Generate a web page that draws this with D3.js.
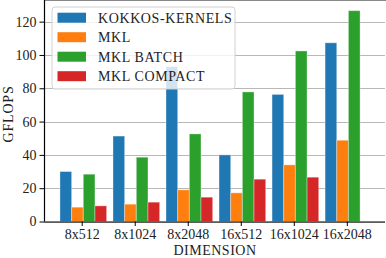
<!DOCTYPE html>
<html>
<head>
<meta charset="utf-8">
<script src="https://cdn.jsdelivr.net/npm/d3@7"></script>
<style>
  body { margin: 0; background: #fff; }
</style>
</head>
<body>
<div id="chart"></div>
<script>
const categories = ['8x512', '8x1024', '8x2048', '16x512', '16x1024', '16x2048'];
const seriesNames = ['KOKKOS-KERNELS', 'MKL', 'MKL BATCH', 'MKL COMPACT'];
const kokkos = [30, 51.3, 93, 40, 76.3, 107.3];
const mkl = [8.6, 10.4, 19, 17.2, 34, 48.8];
const mklBatch = [28.4, 38.6, 52.6, 77.8, 102.4, 126.6];
const mklCompact = [9.4, 11.6, 14.6, 25.4, 26.6, 0];
const yTicks = [0, 20, 40, 60, 80, 100, 120];
const colors = ['#1f77b4', '#ff7f0e', '#2ca02c', '#d62728'];

const series = [kokkos, mkl, mklBatch, mklCompact];
const FONT = '"Liberation Serif", "Times New Roman", serif';

const W = 386, H = 258;
const plotL = 44, plotR = 385, plotT = 0, plotB = 221.5;

const svg = d3.select('#chart').append('svg')
    .attr('width', W).attr('height', H);

// scales (group index units)
const x = d3.scaleLinear().domain([-0.711, 5.72]).range([plotL, plotR]);
const y = d3.scaleLinear().domain([0, 133]).range([plotB, plotT]);
const barW = 0.22;
const groupOffset = -0.41;

// grid
svg.append('g')
    .selectAll('line')
    .data(yTicks)
    .enter()
    .append('line')
    .attr('x1', plotL).attr('x2', plotR)
    .attr('y1', d => Math.round(y(d)) + 0.5).attr('y2', d => Math.round(y(d)) + 0.5)
    .attr('stroke', '#b0b0b0')
    .attr('stroke-width', 0.9);

// bars
const bars = [];
series.forEach((vals, j) => {
    vals.forEach((v, i) => {
        if (v > 0) bars.push({ i, j, v });
    });
});
svg.append('g')
    .selectAll('rect')
    .data(bars)
    .enter()
    .append('rect')
    .attr('x', d => x(d.i + groupOffset + d.j * barW))
    .attr('width', x(barW) - x(0))
    .attr('y', d => y(d.v))
    .attr('height', d => plotB - y(d.v))
    .attr('fill', d => colors[d.j])
    .attr('stroke', 'rgba(255,255,255,0.35)')
    .attr('stroke-width', 1);

// top border
svg.append('line')
    .attr('x1', plotL).attr('x2', W)
    .attr('y1', 0.5).attr('y2', 0.5)
    .attr('stroke', '#888').attr('stroke-width', 1);

// y axis
const yAxis = svg.append('g')
    .attr('transform', `translate(${plotL},0)`)
    .call(d3.axisLeft(y).tickValues(yTicks).tickSize(4.5).tickPadding(3));
yAxis.select('.domain').attr('stroke', '#000').attr('stroke-width', 1.2).attr('d', `M0.5,${plotT}V${plotB}`);
yAxis.selectAll('text').style('font-family', FONT).style('font-size', '14px').attr('fill', '#222');

// x axis
const xAxis = svg.append('g')
    .attr('transform', `translate(0,${plotB})`)
    .call(d3.axisBottom(x).tickValues(d3.range(categories.length)).tickFormat(i => categories[i]).tickSize(4.5).tickPadding(3));
xAxis.select('.domain').attr('stroke', '#000').attr('stroke-width', 1.2).attr('d', `M${plotL},0.5H${plotR}`);
xAxis.selectAll('text').style('font-family', FONT).style('font-size', '14px').attr('fill', '#222');

// axis labels
svg.append('text')
    .attr('x', 215).attr('y', 255)
    .attr('text-anchor', 'middle')
    .attr('fill', '#222')
    .style('font-family', FONT)
    .style('font-size', '14px')
    .style('letter-spacing', '0.5px')
    .text('DIMENSION');
svg.append('text')
    .attr('transform', `translate(13,114) rotate(-90)`)
    .attr('text-anchor', 'middle')
    .attr('fill', '#222')
    .style('font-family', FONT)
    .style('font-size', '14px')
    .style('letter-spacing', '0.8px')
    .text('GFLOPS');

// legend
const lg = svg.append('g');
lg.append('rect')
    .attr('x', 52).attr('y', 7)
    .attr('width', 183).attr('height', 82)
    .attr('rx', 3)
    .attr('fill', 'rgba(255,255,255,0.8)')
    .attr('stroke', '#d0d0d0');
seriesNames.forEach((name, j) => {
    const cy = 17.7 + j * 19.5;
    lg.append('rect')
        .attr('x', 57.5).attr('y', cy - 5)
        .attr('width', 28.5).attr('height', 10)
        .attr('fill', colors[j]);
    lg.append('text')
        .attr('x', 98).attr('y', cy + 5)
        .attr('fill', '#222')
        .style('font-family', FONT)
        .style('font-size', '14px')
        .style('letter-spacing', '0.6px')
        .text(name);
});
</script>
</body>
</html>
